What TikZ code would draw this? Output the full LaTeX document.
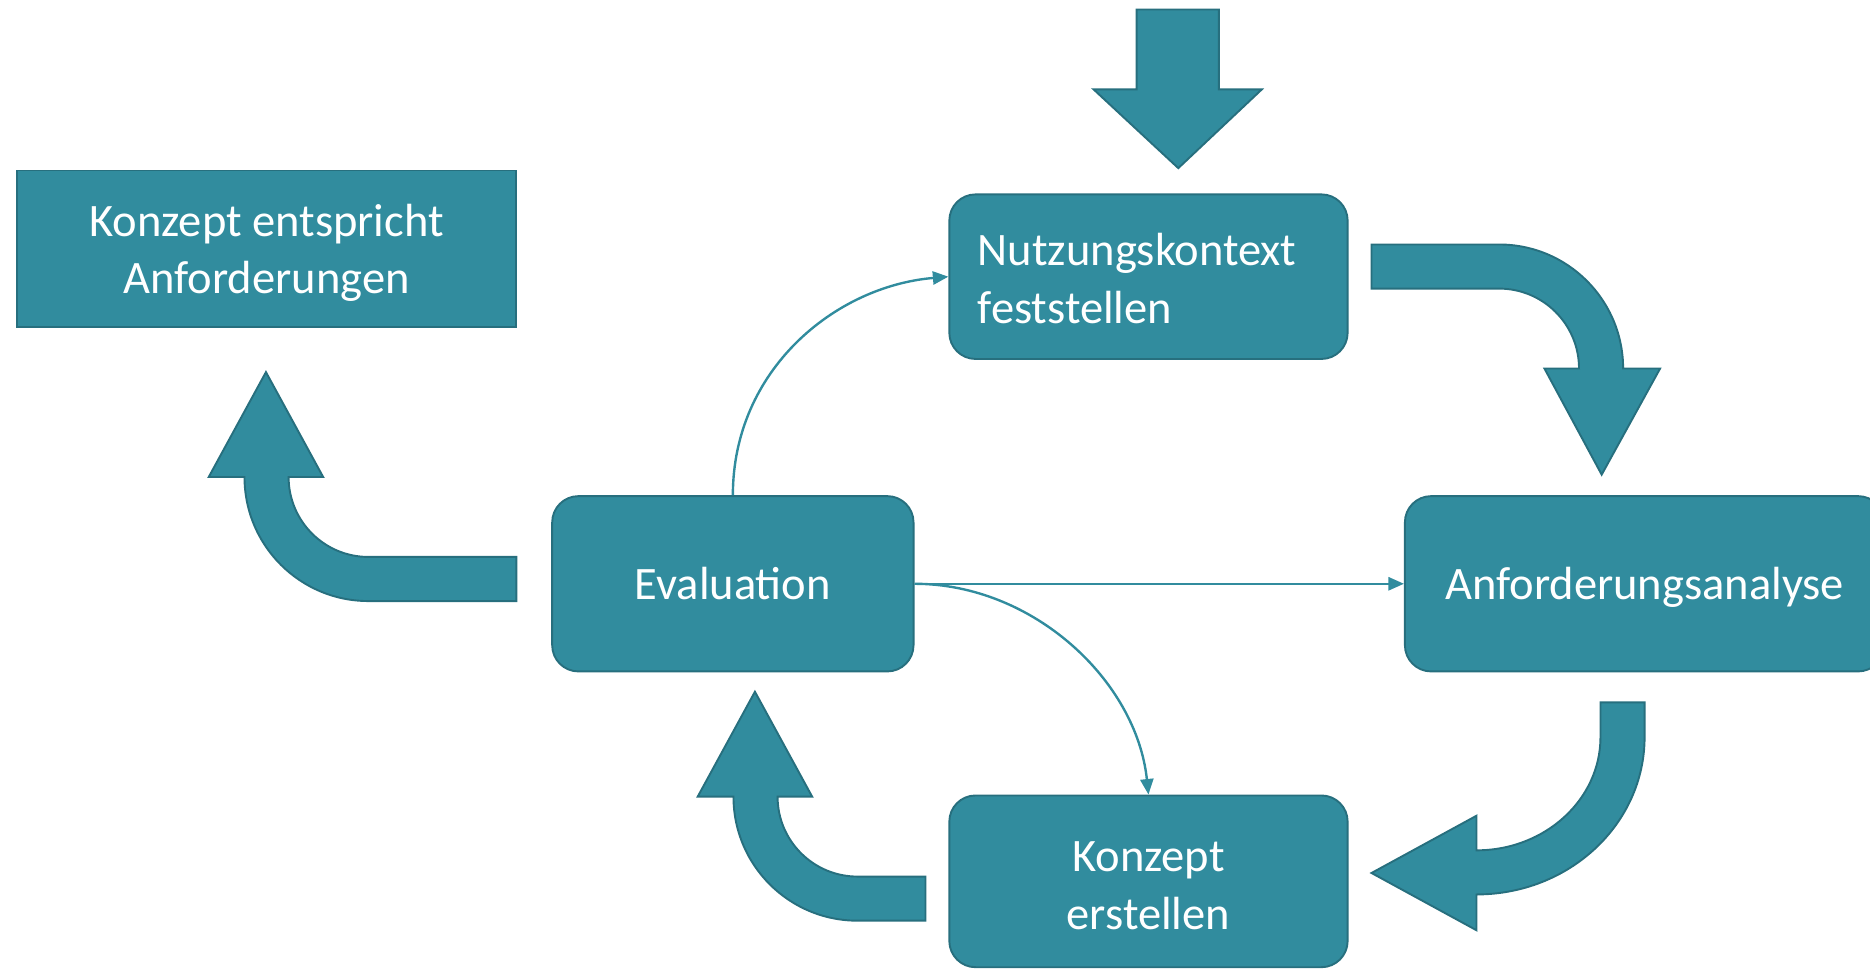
\documentclass[tikz,border=0pt]{standalone}
\usepackage{fontspec}
\setmainfont{Carlito}
\usetikzlibrary{arrows.meta}
\definecolor{tealfill}{HTML}{318C9E}
\definecolor{tealline}{HTML}{276F7E}
\begin{document}
\begin{tikzpicture}[x=1pt,y=-1pt,
  box/.style={draw=tealline, line width=1.6pt, fill=tealfill, text=white,
    font=\fontsize{39}{48}\selectfont, inner sep=0pt},
  rbox/.style={box, rounded corners=22pt},
  oneline/.style={text height=34pt, text depth=8pt},
  toplines/.style={text height=30pt, text depth=48pt},
  lastlines/.style={text height=83pt, text depth=8pt},
  fat/.style={draw=tealline, line width=1.6pt, fill=tealfill, line join=miter},
  conn/.style={draw=tealfill, line width=2pt, -{Triangle[length=13pt,width=11pt]}}]
\useasboundingbox (0,0) rectangle (1568,812.5);
\clip (0,0) rectangle (1568,812.5);

% boxes
\node[rbox, toplines, minimum width=334pt, minimum height=138pt, text width=286pt, align=left] (nk) at (963,232) {Nutzungskontext\\feststellen};
\node[rbox, oneline, minimum width=402pt, minimum height=147pt] (an) at (1379,489.5) {Anforderungsanalyse};
\node[rbox, oneline, minimum width=303pt, minimum height=147pt] (ev) at (614.5,489.5) {Evaluation};
\node[rbox, lastlines, text height=88pt, minimum width=334pt, minimum height=144pt, align=center] (ke) at (963,739) {Konzept\\erstellen};
\node[box, lastlines, minimum width=419pt, minimum height=131pt, align=center] (ka) at (223.5,208.5) {Konzept entspricht\\Anforderungen};

% thin connectors
\draw[conn] (ev.north) .. controls +(0,-105) and +(-95,8) .. (nk.west);
\draw[conn] (ev.east) -- (an.west);
\draw[conn] (ev.east) .. controls +(100,0) and +(-10,-95) .. (ke.north);

% fat arrows
\path[fat] (953,8) -- (1022,8) -- (1022,75) -- (1058,75) -- (988,141) -- (917,75) -- (953,75) -- cycle;
\path[fat] (1150,205) -- (1257,205) arc[start angle=270,end angle=360,radius=104]
  -- (1392,309) -- (1343,398) -- (1295,309) -- (1324,309)
  arc[start angle=360,end angle=270,radius=67] -- (1150,242) -- cycle;
\path[fat] (433,467) -- (309,467) arc[start angle=90,end angle=180,radius=67]
  -- (271,400) -- (223,312) -- (175,400) -- (205,400)
  arc[start angle=180,end angle=90,radius=104] -- (433,504) -- cycle;
\path[fat] (776,735) -- (719,735) arc[start angle=90,end angle=180,radius=67]
  -- (681,668) -- (633,580) -- (585,668) -- (615,668)
  arc[start angle=180,end angle=90,radius=104] -- (776,772) -- cycle;
\path[fat] (1342,589) -- (1379,589) -- (1379,618)
  arc[start angle=0,end angle=90,x radius=141,y radius=132]
  -- (1238,780) -- (1150,732) -- (1238,684) -- (1238,713)
  arc[start angle=90,end angle=0,x radius=104,y radius=95] -- cycle;
\end{tikzpicture}
\end{document}
